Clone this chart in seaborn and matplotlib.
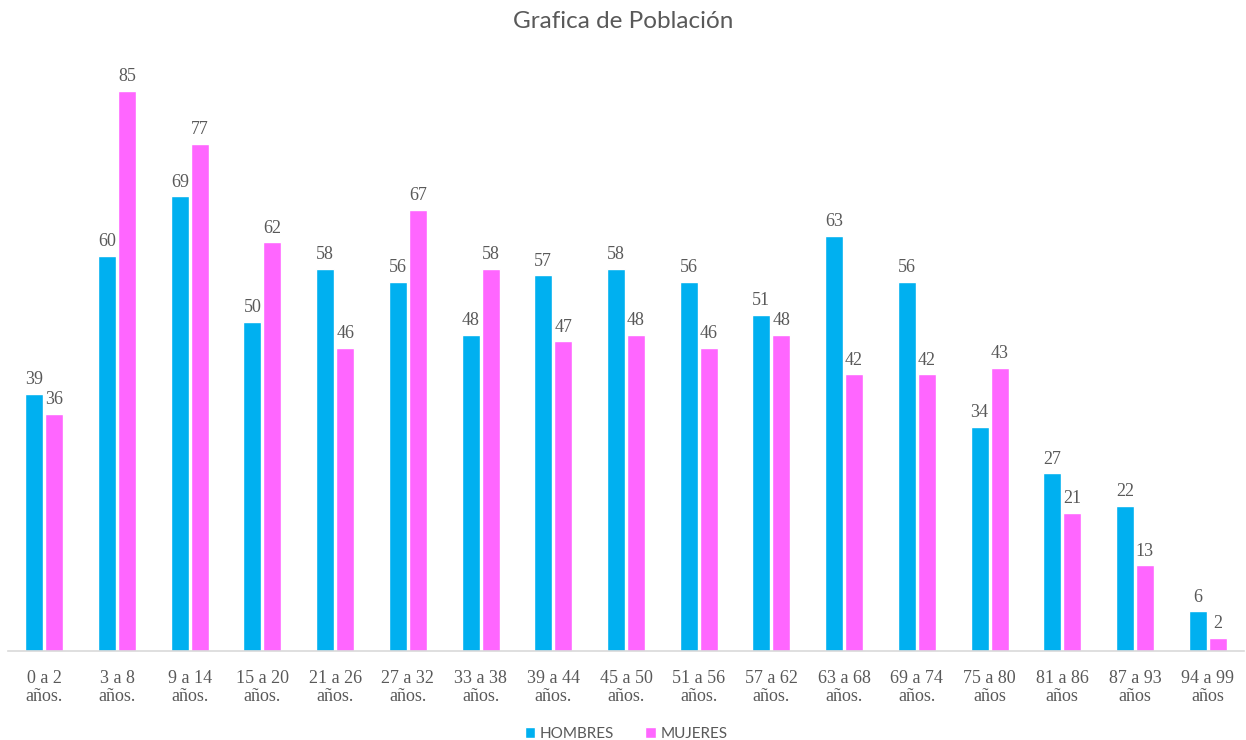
import pandas as pd
import matplotlib.pyplot as plt
import seaborn as sns

# datos de la gráfica
grupos = ['0 a 2\naños.', '3 a 8\naños.', '9 a 14\naños.', '15 a 20\naños.', '21 a 26\naños.',
          '27 a 32\naños.', '33 a 38\naños.', '39 a 44\naños.', '45 a 50\naños.', '51 a 56\naños.',
          '57 a 62\naños.', '63 a 68\naños.', '69 a 74\naños.', '75 a 80\naños', '81 a 86\naños',
          '87 a 93\naños', '94 a 99\naños']
hombres = [39, 60, 69, 50, 58, 56, 48, 57, 58, 56, 51, 63, 56, 34, 27, 22, 6]
mujeres = [36, 85, 77, 62, 46, 67, 58, 47, 48, 46, 48, 42, 42, 43, 21, 13, 2]

df = pd.DataFrame({
    'grupo': grupos * 2,
    'valor': hombres + mujeres,
    'sexo': ['HOMBRES'] * len(grupos) + ['MUJERES'] * len(grupos),
})

sns.set_style('white')
plt.rcParams['font.family'] = ['Lato', 'DejaVu Sans']

fig = plt.figure(figsize=(12.46, 7.40), dpi=100)
ax = fig.add_axes([8 / 1246, 89 / 740, 1236 / 1246, 593 / 740])

colores = {'HOMBRES': '#00B0F0', 'MUJERES': '#FF66FF'}
sns.barplot(data=df, x='grupo', y='valor', hue='sexo', order=grupos,
            hue_order=['HOMBRES', 'MUJERES'], palette=colores, saturation=1,
            width=0.55, gap=0.1, ax=ax, legend=True)

# etiquetas de datos
for cont in ax.containers:
    ax.bar_label(cont, padding=4, fontsize=13, color='#595959', family='Liberation Serif')

ax.set_ylim(0, 90)
ax.set_xlim(-0.5, len(grupos) - 0.5)
ax.set_xlabel('')
ax.set_ylabel('')
ax.set_yticks([])
for lado in ['top', 'right', 'left']:
    ax.spines[lado].set_visible(False)
ax.spines['bottom'].set_color('#D9D9D9')
ax.spines['bottom'].set_linewidth(1.2)
ax.tick_params(axis='x', length=0, pad=14, labelsize=13, labelcolor='#595959')
for t in ax.get_xticklabels():
    t.set_family('Liberation Serif')
    t.set_linespacing(1.05)

fig.suptitle('Grafica de Población', y=0.985, fontsize=17.5, color='#595959')

leg = ax.legend(loc='lower center', bbox_to_anchor=(0.5, -0.175), ncol=2, frameon=False,
                fontsize=11, handlelength=0.7, handleheight=0.7, handletextpad=0.3,
                columnspacing=2.0)
for t in leg.get_texts():
    t.set_color('#595959')

fig.savefig('out.png', dpi=100)
